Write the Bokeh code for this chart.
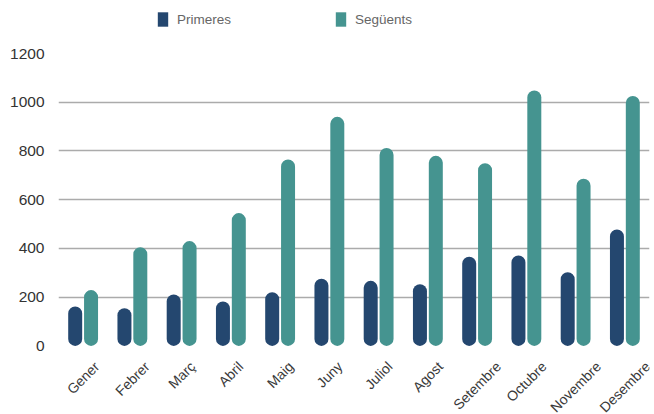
import numpy as np
from bokeh.plotting import figure
from bokeh.models import (ColumnDataSource, Range1d, FixedTicker, Legend, LegendItem)
from bokeh.core.properties import value
from bokeh.transform import dodge
from bokeh.embed import file_html
from bokeh.resources import INLINE

months = ["Gener", "Febrer", "Març", "Abril", "Maig", "Juny", "Juliol",
          "Agost", "Setembre", "Octubre", "Novembre", "Desembre"]
primeres = [162, 155, 211, 182, 220, 276, 267, 253, 366, 371, 302, 478]
seguents = [229, 405, 430, 545, 765, 940, 812, 780, 750, 1048, 686, 1026]
y_ticks = [0, 200, 400, 600, 800, 1000, 1200]

C1 = "#24476F"
C2 = "#459490"
FONT = "Liberation Sans"
XFS = 14  # x label font size (px)

# approximate Liberation Sans advance widths (per 1000 em) for label layout
W = {"G": 778, "e": 556, "n": 556, "r": 333, "F": 611, "b": 556, "M": 833,
     "a": 556, "ç": 500, "A": 667, "i": 222, "l": 222, "g": 556, "J": 500,
     "u": 556, "y": 500, "o": 556, "s": 500, "t": 278, "S": 667, "m": 833,
     "O": 778, "c": 500, "N": 722, "v": 500, "D": 722}


def label_offset(t):
    length = sum(W.get(ch, 556) for ch in t) * XFS / 1000.0
    h = 0.72 * XFS
    return 14.6 + (length + h) * 0.7071 / 2.0


pos = np.arange(len(months)) + 0.5
src = ColumnDataSource(dict(x=pos, p=primeres, s=seguents, m=months,
                            zero=[0] * len(months),
                            off=[label_offset(m) for m in months]))

# frame spans the full height; value 0 sits at 345.4 px, 1200 at 53 px
PX = 292.4 / 1200.0
H = 414
y0 = -(H - 345.4) / PX
y1 = 1200 + 53 / PX

p = figure(width=654, height=H, output_backend="svg", toolbar_location=None,
           x_range=Range1d(0, 12), y_range=Range1d(y0, y1),
           min_border_left=58, min_border_right=5, min_border_top=0,
           min_border_bottom=0)
p.outline_line_color = None
p.background_fill_color = "white"
p.border_fill_color = "white"

r1 = p.vbar(x=dodge("x", -0.161, range=p.x_range), top="p", bottom=0, width=0.284,
            source=src, fill_color=C1, line_color=None, border_radius=7)
r2 = p.vbar(x=dodge("x", 0.161, range=p.x_range), top="s", bottom=0, width=0.284,
            source=src, fill_color=C2, line_color=None, border_radius=7)

# category labels (rotated, centred under each month)
p.text(x="x", y="zero", text="m", source=src, angle=np.pi / 4,
       y_offset="off", text_align="center", text_baseline="middle",
       text_font=value(FONT), text_font_size=f"{XFS}px", text_color="#3A3A3A")

legend = Legend(items=[LegendItem(label="Primeres", renderers=[r1]),
                       LegendItem(label="Següents", renderers=[r2])],
                orientation="horizontal", location=(98, H - 28),
                glyph_width=13, glyph_height=18, label_height=18,
                label_standoff=8, label_width=157, spacing=0, padding=0,
                margin=0, border_line_alpha=0, background_fill_alpha=0,
                label_text_font=FONT, label_text_font_size="13.5px",
                label_text_color="#666666", label_text_baseline="middle")
p.add_layout(legend, "center")

# y axis
p.yaxis.ticker = FixedTicker(ticks=y_ticks)
p.yaxis.axis_line_color = None
p.yaxis.major_tick_line_color = None
p.yaxis.minor_tick_line_color = None
p.yaxis.major_tick_out = 0
p.yaxis.major_tick_in = 0
p.yaxis.major_label_standoff = 14
p.yaxis.major_label_text_font = FONT
p.yaxis.major_label_text_font_size = "15.5px"
p.yaxis.major_label_text_color = "#333333"

p.ygrid.ticker = FixedTicker(ticks=y_ticks[1:-1])
p.ygrid.grid_line_color = "#ABABAB"
p.ygrid.grid_line_width = 1.5
p.xgrid.grid_line_color = None

# x axis hidden (labels drawn as text above)
p.xaxis.visible = False

open("out.html", "w").write(file_html(p, INLINE))
